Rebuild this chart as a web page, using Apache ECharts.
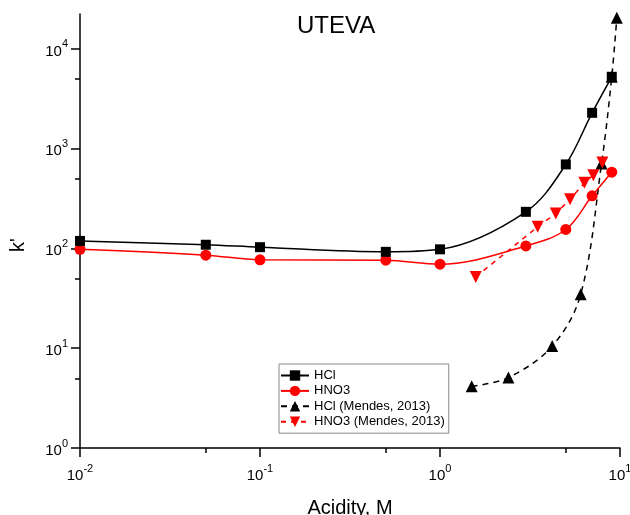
<!DOCTYPE html>
<html><head><meta charset="utf-8">
<script src="https://cdn.jsdelivr.net/npm/echarts@6/dist/echarts.min.js"></script>
<style>html,body{margin:0;padding:0;background:#fff}#c{width:630px;height:515px}</style>
</head><body><div id="c"></div>
<script>
const titleText = 'UTEVA';
const xName = 'Acidity, M';
const yName = "k'";
const seriesNames = ['HCl', 'HNO3', 'HCl (Mendes, 2013)', 'HNO3 (Mendes, 2013)'];
// HCl (this work)
const hclX = [0.01, 0.05, 0.1, 0.5, 1, 3, 5, 7, 9];
const hclY = [119, 109, 103, 92.5, 98, 233, 696, 2290, 5260];
// HNO3 (this work)
const hno3X = [0.01, 0.05, 0.1, 0.5, 1, 3, 5, 7, 9];
const hno3Y = [98, 85.7, 77, 76.3, 69.6, 106, 155, 337, 582];
// HCl (Mendes, 2013)
const hclMX = [1.5, 2.4, 4.2, 6.05, 7.9, 9, 9.6];
const hclMY = [4.16, 5.08, 10.5, 34.8, 712, 5260, 20500];
// HNO3 (Mendes, 2013)
const hno3MX = [1.58, 3.49, 4.4, 5.28, 6.34, 7.11, 7.98];
const hno3MY = [51.9, 165, 224, 312, 455, 543, 729];
// axis ticks
const xMajorTicks = [0.01, 0.1, 1, 10];
const xMinorTicks = [0.05, 0.5, 5];
const yMajorTicks = [1, 10, 100, 1000, 10000];
const yMinorTicks = [5, 50, 500, 5000];

const FONT = "'Liberation Sans', Arial, sans-serif";
const pairs = (xs, ys) => xs.map((x, i) => [x, ys[i]]);
const supFmt = v => '{b|10}{s|' + Math.round(Math.log10(v)) + '}';
const richLbl = {
  b: {fontSize: 15, fontFamily: FONT, color: '#000', lineHeight: 20, verticalAlign: 'bottom'},
  s: {fontSize: 11, fontFamily: FONT, color: '#000', lineHeight: 12, verticalAlign: 'top'}
};
const downTri = 'path://M0,0 L10,0 L5,9 Z';

const chart = echarts.init(document.getElementById('c'));
const axisLineStyle = {color: '#000', width: 1.5};
chart.setOption({
  animation: false,
  backgroundColor: '#fff',
  title: {text: titleText, left: 297, top: 14, padding: 0,
    textStyle: {fontSize: 24, fontWeight: 'normal', color: '#000', fontFamily: FONT}},
  grid: {left: 80, right: 10, top: 14, bottom: 67, containLabel: false, outerBoundsMode: 'none'},
  legend: {
    orient: 'vertical', left: 279, top: 364,
    itemWidth: 28, itemHeight: 13, itemGap: 2.4,
    padding: [5, 4, 5, 1],
    borderColor: '#888', borderWidth: 1,
    textStyle: {fontSize: 13, fontFamily: FONT, color: '#000', lineHeight: 13},
    data: seriesNames
  },
  xAxis: [{
    type: 'log', logBase: 10, min: 0.01, max: 10, position: 'bottom',
    name: xName, nameLocation: 'middle', nameGap: 50,
    nameTextStyle: {fontSize: 20, fontFamily: FONT, color: '#000'},
    axisLine: {lineStyle: axisLineStyle},
    axisTick: {length: 9, lineStyle: {color: '#000', width: 1.5}, customValues: xMajorTicks},
    axisLabel: {margin: 15, formatter: supFmt, rich: richLbl, customValues: xMajorTicks},
    splitLine: {show: false}
  }, {
    type: 'log', logBase: 10, min: 0.01, max: 10, position: 'bottom',
    axisLine: {show: false},
    axisTick: {length: 5, lineStyle: {color: '#000', width: 1.5}, customValues: xMinorTicks},
    axisLabel: {show: false},
    splitLine: {show: false}
  }],
  yAxis: [{
    type: 'log', logBase: 10, min: 1, max: 22400, position: 'left',
    name: yName, nameLocation: 'middle', nameGap: 52, nameRotate: 90,
    nameTextStyle: {fontSize: 20, fontFamily: FONT, color: '#000', padding: [0, 28, 0, 0]},
    axisLine: {lineStyle: axisLineStyle},
    axisTick: {length: 9, lineStyle: {color: '#000', width: 1.5}, customValues: yMajorTicks},
    axisLabel: {margin: 12, formatter: supFmt, rich: richLbl, customValues: yMajorTicks},
    splitLine: {show: false}
  }, {
    type: 'log', logBase: 10, min: 1, max: 22400, position: 'left',
    axisLine: {show: false},
    axisTick: {length: 5, lineStyle: {color: '#000', width: 1.5}, customValues: yMinorTicks},
    axisLabel: {show: false},
    splitLine: {show: false}
  }],
  series: [
    {name: seriesNames[0], type: 'line', data: pairs(hclX, hclY), smooth: 0.35,
      symbol: 'rect', symbolSize: 10, color: '#000',
      lineStyle: {color: '#000', width: 1.5}, itemStyle: {color: '#000'}, z: 4},
    {name: seriesNames[1], type: 'line', data: pairs(hno3X, hno3Y), smooth: 0.35,
      symbol: 'circle', symbolSize: 11, color: '#ff0000',
      lineStyle: {color: '#ff0000', width: 1.5}, itemStyle: {color: '#ff0000'}, z: 3},
    {name: seriesNames[2], type: 'line', data: pairs(hclMX, hclMY), smooth: 0.35,
      symbol: 'triangle', symbolSize: 12, color: '#000',
      lineStyle: {color: '#000', width: 1.5, type: [6, 5]}, itemStyle: {color: '#000'}, z: 2},
    {name: seriesNames[3], type: 'line', data: pairs(hno3MX, hno3MY), smooth: false,
      symbol: downTri, symbolSize: 12, color: '#ff0000',
      lineStyle: {color: '#ff0000', width: 1.5, type: [5, 5]}, itemStyle: {color: '#ff0000'}, z: 2}
  ]
});
</script></body></html>
